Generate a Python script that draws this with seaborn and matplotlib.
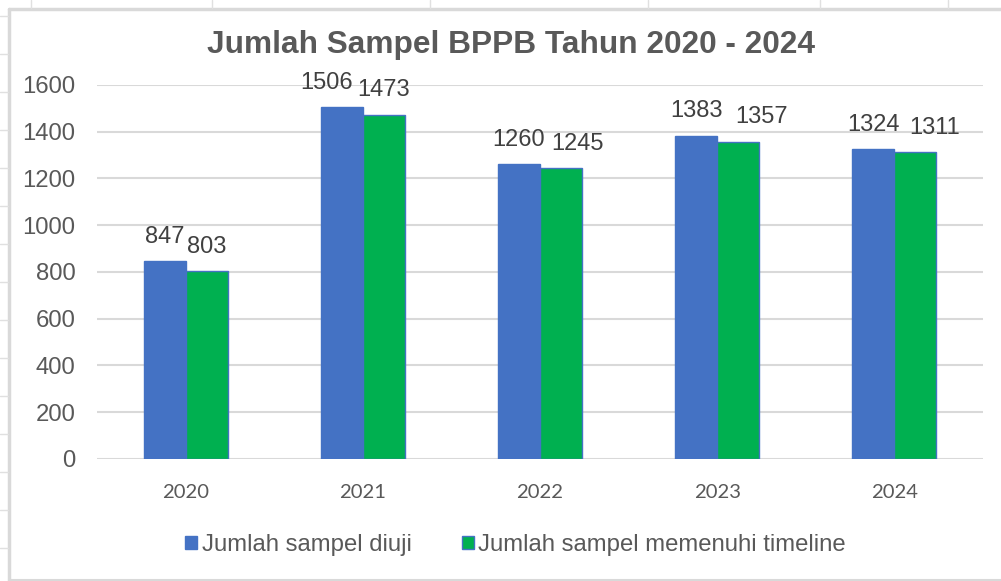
import pandas as pd
import seaborn as sns
import matplotlib.pyplot as plt
from matplotlib.patches import Patch
from matplotlib.lines import Line2D

years = ["2020", "2021", "2022", "2023", "2024"]
diuji = [847, 1506, 1260, 1383, 1324]
timeline = [803, 1473, 1245, 1357, 1311]
series = ["Jumlah sampel diuji", "Jumlah sampel memenuhi timeline"]
colors = ["#4472C4", "#00B050"]

df = pd.DataFrame({
    "Tahun": years * 2,
    "Jumlah": diuji + timeline,
    "Seri": [series[0]] * 5 + [series[1]] * 5,
})

sns.set_style("white")
plt.rcParams["font.family"] = ["Liberation Sans", "DejaVu Sans"]

fig = plt.figure(figsize=(10.01, 5.81), dpi=100)
ax = fig.add_axes([0.097, 0.21, 0.885, 0.644])

sns.barplot(data=df, x="Tahun", y="Jumlah", hue="Seri", palette=colors,
            width=0.475, saturation=1, edgecolor="#4472C4", linewidth=1,
            legend=False, ax=ax)

ax.set_ylim(0, 1600)
ax.set_yticks(range(0, 1601, 200))
ax.yaxis.grid(True, color="#D9D9D9", linewidth=1.5)
ax.set_axisbelow(True)
for s in ax.spines.values():
    s.set_visible(False)
ax.set_xlabel("")
ax.set_ylabel("")
ax.tick_params(axis="y", labelsize=17.2, labelcolor="#595959", length=0, pad=15.5)
ax.tick_params(axis="x", labelsize=14.6, labelcolor="#595959", length=0, pad=18)
for t in ax.get_xticklabels():
    t.set_family("Lato")

# Excel nudges the labels apart where they would overlap (offsets in points)
nudge = [[0, -11, 0, 0, 0], [0, 0, 11.5, 17, 14]]
for i, cont in enumerate(ax.containers):
    for j, bar in enumerate(cont):
        h = bar.get_height()
        ax.annotate(f"{h:.0f}", (bar.get_x() + bar.get_width() / 2, h),
                    xytext=(nudge[i][j], 9.5), textcoords="offset points",
                    ha="center", va="bottom", fontsize=17, color="#404040")

fig.text(0.51, 0.922, "Jumlah Sampel BPPB Tahun 2020 - 2024", ha="center",
         va="center", fontsize=22.8, fontweight="bold", color="#595959")

handles = [Patch(facecolor=c, edgecolor="#4472C4") for c in colors]
fig.legend(handles, series, loc="center", bbox_to_anchor=(0.515, 0.062), ncol=2,
           frameon=False, fontsize=17.2, handlelength=0.5, handleheight=0.5,
           handletextpad=0.2, columnspacing=2.1, labelcolor="#595959")

# spreadsheet cell lines and chart border behind the chart
gray = "#D9D9D9"
W, H = 1001, 581
fig.add_artist(Line2D([9 / W, 9 / W], [0, 1 - 9 / H], color=gray, lw=2.5))
fig.add_artist(Line2D([9 / W, 1], [1 - 9 / H, 1 - 9 / H], color=gray, lw=2.5))
fig.add_artist(Line2D([9 / W, 1], [1 - 580 / H, 1 - 580 / H], color=gray, lw=1.5))
for x in [31, 212, 430, 648, 820, 948]:
    fig.add_artist(Line2D([x / W, x / W], [1 - 8 / H, 1], color="#E0E0E0", lw=1))
for y in range(16, 581, 38):
    fig.add_artist(Line2D([0, 8 / W], [1 - y / H, 1 - y / H], color="#E0E0E0", lw=1))

fig.savefig("out.png", dpi=100)
